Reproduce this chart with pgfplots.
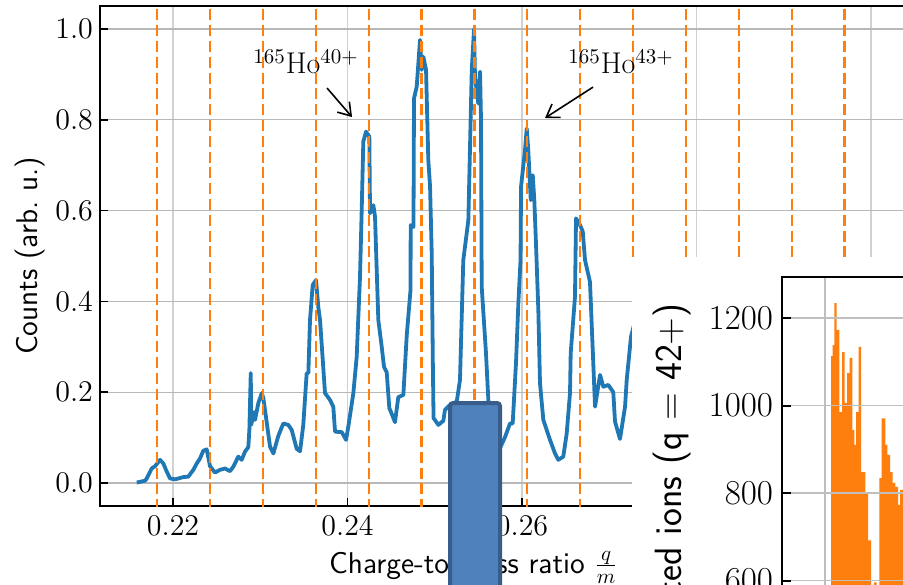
\RequirePackage{fix-cm}
\documentclass[border=0pt]{standalone}
\usepackage{pgfplots}
\pgfplotsset{compat=1.18}
\usetikzlibrary{arrows.meta}

\definecolor{tabblue}{HTML}{1F77B4}
\definecolor{taborange}{HTML}{FF7F0E}
\definecolor{boxfill}{HTML}{4F81BD}
\definecolor{boxdraw}{HTML}{385D8A}

\pgfplotsset{
  qline/.style={taborange, line width=1.1pt, dash pattern=on 5.5pt off 2.4pt, forget plot},
}

\begin{document}
\begin{tikzpicture}
\path[use as bounding box] (0pt,0pt) rectangle (451.5pt,292pt);
\clip (0pt,0pt) rectangle (451.5pt,292pt);

% main spectrum
\begin{axis}[
  at={(50pt,39pt)}, anchor=south west,
  scale only axis, width=429.125pt, height=250pt,
  xmin=0.21163, xmax=0.31, ymin=-0.0507, ymax=1.0507,
  xtick={0.22,0.24,0.26,0.28,0.30},
  ytick={0,0.2,0.4,0.6,0.8,1.0},
  scaled ticks=false,
  xticklabel style={/pgf/number format/fixed, /pgf/number format/precision=2, yshift=-1.5pt},
  yticklabel style={/pgf/number format/fixed, /pgf/number format/fixed zerofill, /pgf/number format/precision=1},
  tick align=inside, tick pos=left, major tick length=4pt,
  tick style={black, line width=0.8pt},
  axis line style={black, line width=0.8pt},
  grid=major, 
  x grid style={black!18, line width=0.6pt},
  y grid style={black!28, line width=0.6pt},
  font=\fontsize{15}{18}\selectfont,
  every axis x label/.style={at={(axis description cs:0.4352,-0.134)}, anchor=base, font=\sffamily\fontsize{15}{18}\selectfont},
  every axis y label/.style={at={(axis description cs:-0.0734,0.5)}, rotate=90, anchor=base, font=\sffamily\fontsize{15}{18}\selectfont},
  xlabel={Charge-to-mass ratio $\frac{q}{m}$},
  ylabel={Counts (arb.\ u.)},
]
\addplot[tabblue, line width=1.9pt, line join=round] coordinates {
(0.21584,0.001) (0.21679,0.005) (0.21699,0.010) (0.21756,0.032) (0.21794,0.037)
(0.21851,0.051) (0.21889,0.043) (0.21928,0.025) (0.21966,0.010) (0.22023,0.008)
(0.22118,0.013) (0.22175,0.014) (0.22233,0.029) (0.22272,0.043) (0.22309,0.054)
(0.22347,0.071) (0.22386,0.074) (0.22424,0.037) (0.22481,0.023) (0.22539,0.029)
(0.22596,0.032) (0.22653,0.026) (0.22691,0.036) (0.22748,0.058) (0.22787,0.051)
(0.22825,0.069) (0.22863,0.079) (0.22875,0.117) (0.22891,0.242) (0.22896,0.128)
(0.22928,0.156) (0.22940,0.139) (0.22978,0.176) (0.23017,0.198) (0.23035,0.187)
(0.23054,0.161) (0.23112,0.080) (0.23150,0.065) (0.23207,0.104) (0.23264,0.131)
(0.23321,0.128) (0.23360,0.117) (0.23418,0.075) (0.23456,0.070) (0.23493,0.128)
(0.23532,0.242) (0.23551,0.242) (0.23570,0.359) (0.23601,0.436) (0.23639,0.447)
(0.23665,0.388) (0.23685,0.359) (0.23742,0.198) (0.23799,0.183) (0.23837,0.168)
(0.23857,0.113) (0.23934,0.112) (0.23983,0.095) (0.24009,0.124) (0.24067,0.198)
(0.24105,0.278) (0.24143,0.454) (0.24163,0.605) (0.24181,0.752) (0.24212,0.774)
(0.24250,0.763) (0.24258,0.594) (0.24296,0.612) (0.24315,0.587) (0.24353,0.359)
(0.24392,0.300) (0.24418,0.256) (0.24449,0.244) (0.24479,0.165) (0.24499,0.156)
(0.24544,0.134) (0.24582,0.189) (0.24640,0.194) (0.24679,0.326) (0.24722,0.425)
(0.24724,0.568) (0.24756,0.564) (0.24762,0.847) (0.24793,0.873) (0.24831,0.976)
(0.24850,0.910) (0.24869,0.939) (0.24900,0.910) (0.24926,0.711) (0.24946,0.653)
(0.24965,0.506) (0.24978,0.264) (0.24986,0.143) (0.25041,0.128) (0.25098,0.137)
(0.25117,0.161) (0.25175,0.172) (0.25198,0.161) (0.25255,0.183) (0.25289,0.227)
(0.25327,0.491) (0.25385,0.579) (0.25424,0.910) (0.25450,1.000) (0.25461,0.895)
(0.25499,0.836) (0.25519,0.906) (0.25530,0.800) (0.25538,0.432) (0.25587,0.286)
(0.25614,0.183) (0.25645,0.095) (0.25702,0.062) (0.25748,0.077) (0.25805,0.101)
(0.25862,0.131) (0.25893,0.131) (0.25931,0.264) (0.25958,0.396) (0.25983,0.491)
(0.25989,0.653) (0.26034,0.733) (0.26054,0.781) (0.26072,0.733) (0.26100,0.623)
(0.26123,0.678) (0.26141,0.623) (0.26160,0.528) (0.26187,0.381) (0.26206,0.220)
(0.26244,0.139) (0.26321,0.095) (0.26378,0.065) (0.26416,0.051) (0.26473,0.058)
(0.26512,0.109) (0.26550,0.198) (0.26558,0.286) (0.26607,0.410) (0.26619,0.583)
(0.26665,0.568) (0.26696,0.554) (0.26722,0.491) (0.26779,0.443) (0.26837,0.168)
(0.26894,0.238) (0.26932,0.212) (0.26989,0.216) (0.27046,0.200) (0.27066,0.135)
(0.27123,0.097) (0.27181,0.168) (0.27200,0.227) (0.27249,0.322) (0.27352,0.400)
};
% q/165 for q = 36 ... 49
\addplot[qline] coordinates {(0.218182,-0.06) (0.218182,1.06)};
\addplot[qline] coordinates {(0.224242,-0.06) (0.224242,1.06)};
\addplot[qline] coordinates {(0.230303,-0.06) (0.230303,1.06)};
\addplot[qline] coordinates {(0.236364,-0.06) (0.236364,1.06)};
\addplot[qline] coordinates {(0.242424,-0.06) (0.242424,1.06)};
\addplot[qline] coordinates {(0.248485,-0.06) (0.248485,1.06)};
\addplot[qline] coordinates {(0.254545,-0.06) (0.254545,1.06)};
\addplot[qline] coordinates {(0.260606,-0.06) (0.260606,1.06)};
\addplot[qline] coordinates {(0.266667,-0.06) (0.266667,1.06)};
\addplot[qline] coordinates {(0.272727,-0.06) (0.272727,1.06)};
\addplot[qline] coordinates {(0.278788,-0.06) (0.278788,1.06)};
\addplot[qline] coordinates {(0.284848,-0.06) (0.284848,1.06)};
\addplot[qline] coordinates {(0.290909,-0.06) (0.290909,1.06)};
\addplot[qline] coordinates {(0.296970,-0.06) (0.296970,1.06)};

\node[anchor=base, font=\fontsize{15}{18}\selectfont] at (axis cs:0.23524,0.901) {$^{165}$Ho$^{40+}$};
\node[anchor=base, font=\fontsize{15}{18}\selectfont] at (axis cs:0.27135,0.901) {$^{165}$Ho$^{43+}$};
\draw[-{Straight Barb[length=6pt,width=8pt]}, line width=0.8pt] (axis cs:0.23765,0.870) -- (axis cs:0.24052,0.806);
\draw[-{Straight Barb[length=6pt,width=8pt]}, line width=0.8pt] (axis cs:0.26814,0.872) -- (axis cs:0.26264,0.804);
\end{axis}

% background of the inset figure
\fill[white] (316pt,-10pt) rectangle (470pt,163.5pt);

% inset histogram
\begin{axis}[
  at={(391pt,-20.125pt)}, anchor=south west,
  scale only axis, width=100pt, height=173.625pt,
  xmin=0, xmax=200, ymin=500, ymax=1294,
  xtick={43}, ytick={600,800,1000,1200},
  tick align=inside, tick pos=left, major tick length=4.5pt,
  tick style={black, line width=1pt},
  axis line style={black, line width=1pt},
  grid=major, major grid style={black!25, line width=0.7pt},
  axis on top,
  font=\fontsize{17.5}{21}\selectfont,
  yticklabel style={/pgf/number format/1000 sep={}, xshift=-1pt},
  every axis y label/.style={at={(axis description cs:-0.505,0.9251)}, rotate=90, anchor=base east, inner sep=0pt, font=\sffamily\fontsize{19}{23}\selectfont},
  ylabel={Detected ions (q = 42+)},
]
\addplot[const plot, fill=taborange, draw=none] coordinates {
(49,1113) (50.7,1138) (52.3,1234) (54.7,1173) (57.3,985) (60,1122) (62.7,1006)
(65,1074) (67.7,1109) (70.3,944) (72.3,910) (74,985) (76.7,1134) (79,848)
(83.3,802) (86,692) (89,560) (92,596) (94.7,560) (97.3,834) (99.7,971)
(103.3,910) (105.3,887) (108,848) (110.7,823) (113.3,814) (116,773) (118,807)
(121,795) (124,760) (128,740) (220,740)
} \closedcycle;
\end{axis}

% overlaid box
\draw[boxdraw, fill=boxfill, line width=2pt, rounded corners=1.5pt] (225pt,-20pt) rectangle (250pt,90.5pt);
\end{tikzpicture}
\end{document}
